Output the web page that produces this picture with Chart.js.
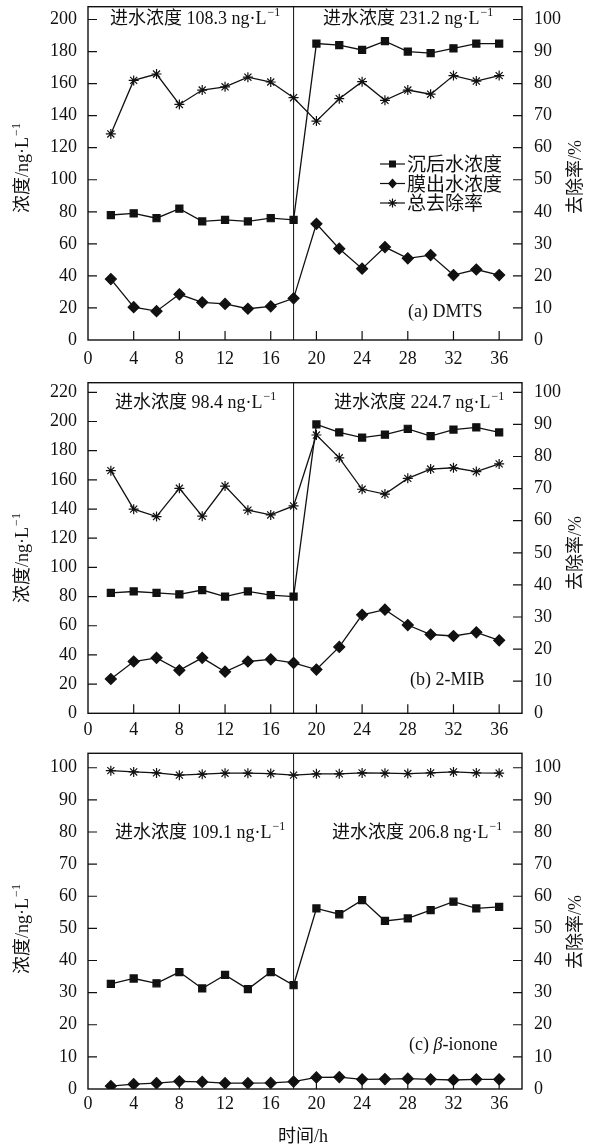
<!DOCTYPE html>
<html>
<head>
<meta charset="utf-8">
<script src="https://cdn.jsdelivr.net/npm/chart.js@4.4.0/dist/chart.umd.min.js"></script>
<style>
    html, body { margin: 0; padding: 0; background: #fff; }
    #wrap { position: relative; width: 592px; height: 1146px; overflow: hidden; }
    canvas { position: absolute; left: 0; }
</style>
</head>
<body>
<div id="wrap">
    <canvas id="chartA" width="592" height="372" style="top:0px"></canvas>
    <canvas id="chartB" width="592" height="372" style="top:372px"></canvas>
    <canvas id="chartC" width="592" height="402" style="top:744px"></canvas>
</div>
<script>
// sampling times (h)
var hours = [2, 4, 6, 8, 10, 12, 14, 16, 18, 20, 22, 24, 26, 28, 30, 32, 34, 36];

// (a) DMTS
var dmtsSettled  = [78, 79, 76, 82, 74, 75, 74, 76, 75, 185, 184, 181, 186.5, 180, 179, 182, 185, 185];
var dmtsMembrane = [38, 20.5, 18, 28.5, 23.5, 22.5, 19.5, 21, 26, 72.5, 57, 44.5, 58, 51, 53, 40.5, 44, 40.5];
var dmtsRemoval  = [64.3, 81, 83, 73.5, 78, 79, 82, 80.5, 75.6, 68.3, 75.3, 80.6, 74.8, 78, 76.7, 82.5, 80.8, 82.5];

// (b) 2-MIB
var mibSettled  = [82.5, 83.5, 82.5, 81.5, 84.5, 80, 83.5, 81, 80, 198, 192.5, 189, 191, 195, 190, 194.5, 196, 192.5];
var mibMembrane = [23.5, 35.5, 38, 29.5, 38, 28.5, 35.5, 37, 34.5, 30, 45.5, 67.5, 71, 60.5, 54, 53, 55.5, 50];
var mibRemoval  = [75.6, 63.6, 61.3, 70.1, 61.4, 70.8, 63.3, 61.8, 64.6, 86.7, 79.6, 69.8, 68.3, 73.2, 76.1, 76.5, 75.3, 77.7];

// (c) beta-ionone
var iononeSettled  = [32.7, 34.4, 32.9, 36.4, 31.3, 35.5, 31.1, 36.4, 32.3, 56.2, 54.4, 58.8, 52.3, 53.1, 55.7, 58.3, 56.2, 56.7];
var iononeMembrane = [0.9, 1.5, 1.8, 2.4, 2.2, 1.8, 1.8, 1.9, 2.3, 3.6, 3.7, 3.0, 3.1, 3.2, 3.0, 2.8, 3.0, 3.0];
var iononeRemoval  = [99.1, 98.7, 98.4, 97.7, 98.0, 98.3, 98.3, 98.2, 97.7, 98.1, 98.1, 98.4, 98.3, 98.2, 98.4, 98.7, 98.4, 98.3];

// inflow concentration before / after the switch at 18 h
var dmtsInflow   = ['108.3', '231.2'];
var mibInflow    = ['98.4', '224.7'];
var iononeInflow = ['109.1', '206.8'];
var switchHour = 18;

var seriesNames = ['沉后水浓度', '膜出水浓度', '总去除率'];

var SERIF = '"Liberation Serif", "Noto Sans CJK SC", serif';
var CJK = '"Noto Sans CJK SC", sans-serif';
var INK = '#111';

function pts(values) {
    return values.map(function (v, i) { return { x: hours[i], y: v }; });
}

function series(label, values, style, axis, radius) {
    return {
        label: label,
        data: pts(values),
        yAxisID: axis,
        borderColor: INK,
        backgroundColor: INK,
        borderWidth: 1.3,
        pointStyle: style,
        pointRadius: radius,
        pointBorderWidth: 1.2,
        pointBackgroundColor: INK,
        pointBorderColor: INK,
        tension: 0,
        fill: false
    };
}

function drawSup(ctx, x, y, main, sup, size, align) {
    var big = size + 'px ' + SERIF;
    var small = Math.round(size * 0.66) + 'px ' + SERIF;
    ctx.font = big;
    var w1 = ctx.measureText(main).width;
    ctx.font = small;
    var w2 = sup ? ctx.measureText(sup).width + 1 : 0;
    var x0 = x;
    if (align === 'center') x0 = x - (w1 + w2) / 2;
    if (align === 'right') x0 = x - w1 - w2;
    ctx.textAlign = 'left';
    ctx.textBaseline = 'middle';
    ctx.font = big;
    ctx.fillText(main, x0, y);
    if (sup) {
        ctx.font = small;
        ctx.fillText(sup, x0 + w1 + 1, y - size * 0.36);
    }
}

function drawMarker(ctx, style, x, y) {
    ctx.beginPath();
    if (style === 'rect') {
        ctx.rect(x - 3.5, y - 3.5, 7, 7);
        ctx.fill();
    } else if (style === 'rectRot') {
        ctx.moveTo(x, y - 5); ctx.lineTo(x + 4.5, y); ctx.lineTo(x, y + 5); ctx.lineTo(x - 4.5, y);
        ctx.closePath();
        ctx.fill();
    } else {
        for (var k = 0; k < 4; k++) {
            var ang = k * Math.PI / 4;
            ctx.moveTo(x - 4.5 * Math.cos(ang), y - 4.5 * Math.sin(ang));
            ctx.lineTo(x + 4.5 * Math.cos(ang), y + 4.5 * Math.sin(ang));
        }
        ctx.stroke();
    }
}

function keepSteps(step, limit) {
    return function (scale) {
        scale.ticks = scale.ticks.filter(function (t) {
            return Math.abs(t.value / step - Math.round(t.value / step)) < 1e-6 && t.value <= limit;
        });
    };
}

function makePanel(id, p) {
    var canvas = document.getElementById(id);
    var H = canvas.height;

    var decor = {
        id: 'decor',
        afterDraw: function (chart) {
            var ctx = chart.ctx;
            var a = chart.chartArea;
            var sx = chart.scales.x, sy = chart.scales.y, sr = chart.scales.y1;
            ctx.save();
            ctx.strokeStyle = INK;
            ctx.fillStyle = INK;
            ctx.lineWidth = 1.4;
            ctx.strokeRect(a.left, a.top, a.right - a.left, a.bottom - a.top);

            // inward tick marks
            ctx.lineWidth = 1.2;
            ctx.beginPath();
            sx.ticks.forEach(function (t) {
                if (t.value === 0) return;
                var px = sx.getPixelForValue(t.value);
                ctx.moveTo(px, a.bottom); ctx.lineTo(px, a.bottom - 9);
            });
            sy.ticks.forEach(function (t) {
                if (t.value === 0) return;
                var py = sy.getPixelForValue(t.value);
                ctx.moveTo(a.left, py); ctx.lineTo(a.left + 9, py);
            });
            sr.ticks.forEach(function (t) {
                if (t.value === 0) return;
                var py = sr.getPixelForValue(t.value);
                ctx.moveTo(a.right, py); ctx.lineTo(a.right - 9, py);
            });
            ctx.stroke();

            // inflow notes
            drawSup(ctx, p.noteL[0], p.noteL[1], '进水浓度 ' + p.inflow[0] + ' ng·L', '−1', 18, 'left');
            drawSup(ctx, p.noteR[0], p.noteR[1], '进水浓度 ' + p.inflow[1] + ' ng·L', '−1', 18, 'left');

            // panel tag
            var tx = p.tagPos[0];
            ctx.textAlign = 'left';
            ctx.textBaseline = 'middle';
            p.tag.forEach(function (piece) {
                ctx.font = (piece[1] ? 'italic ' : '') + '18px ' + SERIF;
                ctx.fillText(piece[0], tx, p.tagPos[1]);
                tx += ctx.measureText(piece[0]).width;
            });

            // axis titles
            ctx.save();
            ctx.translate(p.titleL[0], p.titleL[1]);
            ctx.rotate(-Math.PI / 2);
            drawSup(ctx, 0, 0, '浓度/ng·L', '−1', 18, 'center');
            ctx.restore();
            ctx.save();
            ctx.translate(p.titleR[0], p.titleR[1]);
            ctx.rotate(-Math.PI / 2);
            drawSup(ctx, 0, 0, '去除率/%', '', 18, 'center');
            ctx.restore();

            if (p.xTitle) {
                drawSup(ctx, p.xTitle[0], p.xTitle[1], '时间/h', '', 18, 'center');
            }

            // legend (panel a only)
            if (p.legend) {
                var styles = ['rect', 'rectRot', 'star'];
                ctx.lineWidth = 1.2;
                p.legend.rows.forEach(function (ry, i) {
                    ctx.beginPath();
                    ctx.moveTo(p.legend.x, ry);
                    ctx.lineTo(p.legend.x + 25, ry);
                    ctx.stroke();
                    drawMarker(ctx, styles[i], p.legend.x + 12.5, ry);
                    ctx.font = '19px ' + CJK;
                    ctx.textAlign = 'left';
                    ctx.textBaseline = 'middle';
                    ctx.fillText(seriesNames[i], p.legend.x + 27, ry);
                });
            }
            ctx.restore();
        }
    };

    var tickFont = { family: SERIF, size: 18 };

    return new Chart(canvas, {
        type: 'line',
        data: {
            datasets: [
                series(seriesNames[0], p.settled, 'rect', 'y', 5),
                series(seriesNames[1], p.membrane, 'rectRot', 'y', 5.5),
                series(seriesNames[2], p.removal, 'star', 'y1', 5),
                {
                    label: 'switch',
                    data: [{ x: switchHour, y: 0 }, { x: switchHour, y: p.leftMax }],
                    yAxisID: 'y',
                    borderColor: INK,
                    borderWidth: 1,
                    pointRadius: 0
                }
            ]
        },
        options: {
            responsive: false,
            animation: false,
            devicePixelRatio: 1,
            events: [],
            layout: { padding: { top: p.areaTop, left: 0, right: 0, bottom: 0 } },
            plugins: {
                legend: { display: false },
                tooltip: { enabled: false }
            },
            scales: {
                x: {
                    type: 'linear',
                    min: 0,
                    max: 38,
                    grid: { display: false, drawTicks: false },
                    border: { display: false },
                    ticks: { stepSize: 4, includeBounds: false, color: INK, font: tickFont, padding: p.xPad, maxRotation: 0, autoSkip: false },
                    afterBuildTicks: keepSteps(4, 36),
                    afterFit: function (s) { s.height = H - p.areaBottom; s.paddingLeft = 0; s.paddingRight = 0; }
                },
                y: {
                    position: 'left',
                    min: 0,
                    max: p.leftMax,
                    grid: { display: false, drawTicks: false },
                    border: { display: false },
                    ticks: { stepSize: p.leftStep, includeBounds: false, color: INK, font: tickFont, padding: 11 },
                    afterBuildTicks: keepSteps(p.leftStep, p.leftMax),
                    afterFit: function (s) { s.width = 88; s.paddingTop = 0; s.paddingBottom = 0; }
                },
                y1: {
                    position: 'right',
                    min: 0,
                    max: p.rightMax,
                    grid: { display: false, drawTicks: false },
                    border: { display: false },
                    ticks: { stepSize: 10, includeBounds: false, color: INK, font: tickFont, padding: 12 },
                    afterBuildTicks: keepSteps(10, 100),
                    afterFit: function (s) { s.width = 70; s.paddingTop = 0; s.paddingBottom = 0; }
                }
            }
        },
        plugins: [decor]
    });
}

makePanel('chartA', {
    settled: dmtsSettled, membrane: dmtsMembrane, removal: dmtsRemoval,
    inflow: dmtsInflow,
    leftMax: 208, leftStep: 20, rightMax: 104,
    areaTop: 6, areaBottom: 340, xPad: 8,
    noteL: [110, 19], noteR: [323, 19],
    tag: [['(a) DMTS', false]], tagPos: [408, 312],
    titleL: [23, 168], titleR: [576, 177],
    legend: { x: 380, rows: [164, 183.5, 203] }
});

makePanel('chartB', {
    settled: mibSettled, membrane: mibMembrane, removal: mibRemoval,
    inflow: mibInflow,
    leftMax: 226.6, leftStep: 20, rightMax: 103,
    areaTop: 10.7, areaBottom: 341.3, xPad: 6,
    noteL: [115, 31], noteR: [334, 31],
    tag: [['(b) 2-MIB', false]], tagPos: [410, 308],
    titleL: [23, 186], titleR: [576, 181]
});

makePanel('chartC', {
    settled: iononeSettled, membrane: iononeMembrane, removal: iononeRemoval,
    inflow: iononeInflow,
    leftMax: 104.5, leftStep: 10, rightMax: 104.5,
    areaTop: 9.3, areaBottom: 345, xPad: 4,
    noteL: [115, 89], noteR: [332, 89],
    tag: [['(c) ', false], ['β', true], ['-ionone', false]], tagPos: [409, 301],
    titleL: [23, 185], titleR: [576, 188],
    xTitle: [303, 393]
});
</script>
</body>
</html>
